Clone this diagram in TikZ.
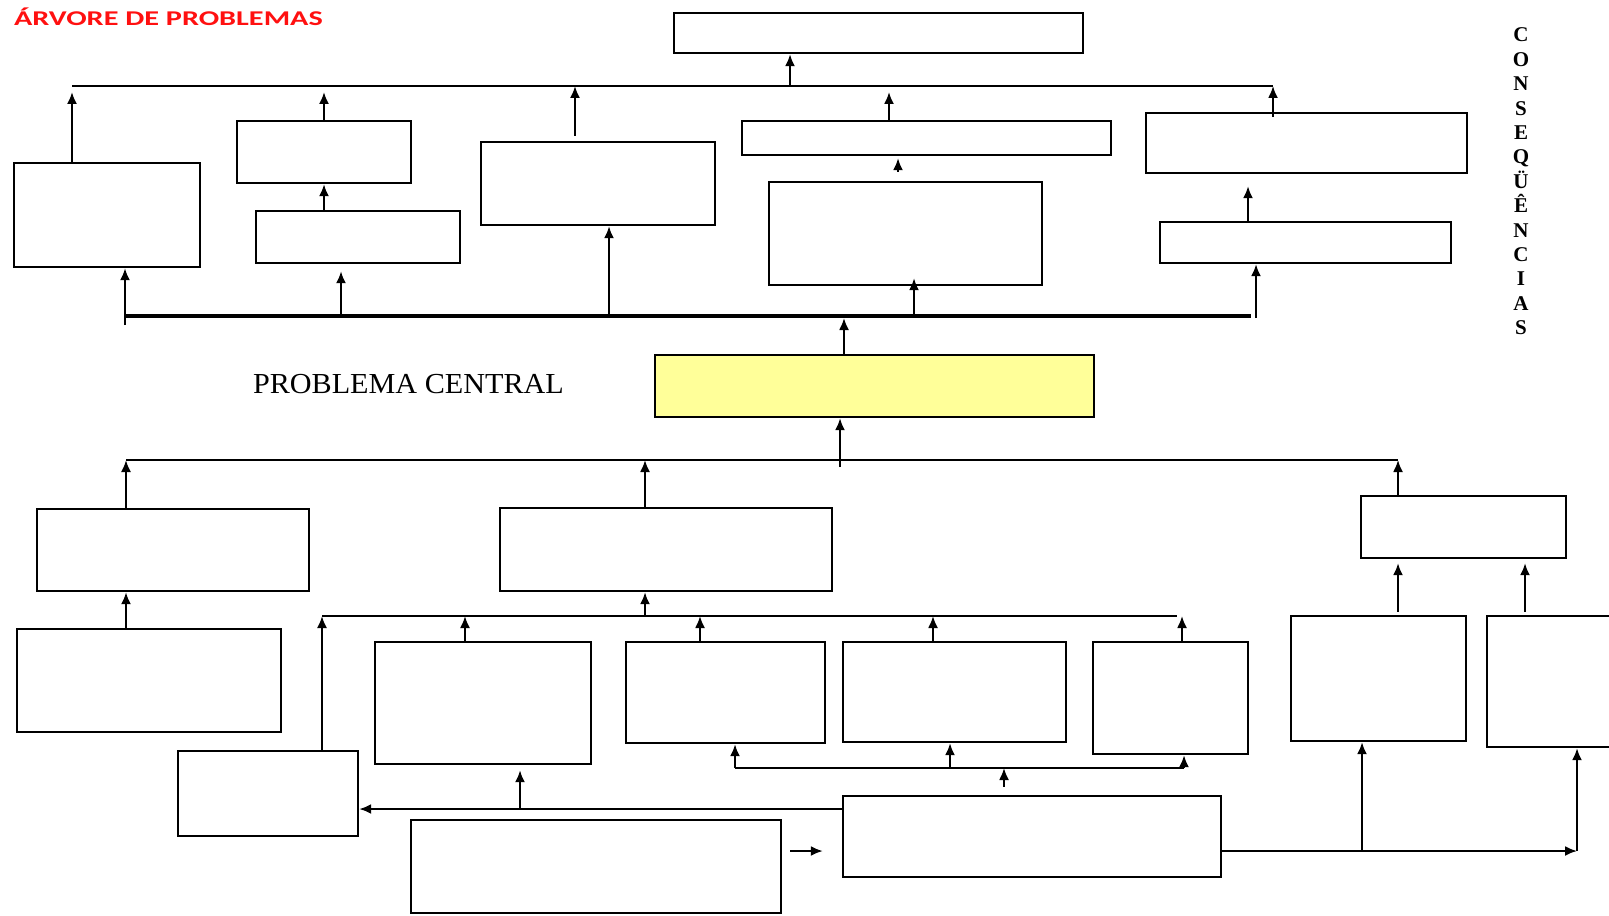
\documentclass[tikz,border=0pt]{standalone}
\usepackage{fontspec}
\usepackage{graphicx}
\setmainfont{Liberation Serif}
\newfontfamily\titlefont{Carlito}
\usetikzlibrary{arrows.meta}

\definecolor{centralfill}{HTML}{FFFF99}
\definecolor{titlered}{HTML}{FF1010}

\tikzset{
  box/.style 2 args={draw=black, line width=1.2pt, inner sep=0pt,
                     minimum width=#1*0.5pt, minimum height=#2*0.5pt},
  link/.style={line width=1pt},
  bus/.style={-, line width=1pt},
}

\begin{document}
\begin{tikzpicture}[x=0.5pt,y=-0.5pt,->,>={Latex[length=6pt,width=5pt]},link]
  \useasboundingbox (0,0) rectangle (1609,915);

  % texts
  \node[anchor=base west, inner sep=0pt, text=titlered,
        font=\titlefont\bfseries\fontsize{10.5}{12}\selectfont] (title) at (13,26)
        {\scalebox{1.44}[1]{ÁRVORE DE PROBLEMAS}};
  \node[anchor=base west, inner sep=0pt,
        font=\fontsize{14.5}{16}\selectfont] (pclabel) at (252,393)
        {\scalebox{1.04}[1]{PROBLEMA CENTRAL}};
  \node[anchor=north, align=center, inner sep=0pt,
        font=\bfseries\fontsize{10.5}{12.2}\selectfont] (cons) at (1521,27)
        {C\\O\\N\\S\\E\\Q\\Ü\\Ê\\N\\C\\I\\A\\S};

  % consequences
  \node[box={409}{40}]  (cq)  at (878.5,33)   {};
  \node[box={186}{104}] (cA)  at (107,215)    {};
  \node[box={174}{62}]  (cB)  at (324,152)    {};
  \node[box={204}{52}]  (cBb) at (358,237)    {};
  \node[box={234}{83}]  (cC)  at (598,183.5)  {};
  \node[box={369}{34}]  (cD)  at (926.5,138)  {};
  \node[box={273}{103}] (cDb) at (905.5,233.5) {};
  \node[box={321}{60}]  (cE)  at (1306.5,143) {};
  \node[box={291}{41}]  (cEb) at (1305.5,242.5) {};

  % central problem
  \node[box={439}{62}, fill=centralfill] (pc) at (874.5,386) {};

  % causes
  \node[box={272}{82}]  (kA)  at (173,550)    {};
  \node[box={264}{103}] (kAb) at (149,680.5)  {};
  \node[box={332}{83}]  (kB)  at (666,549.5)  {};
  \node[box={205}{62}]  (kC)  at (1463.5,527) {};
  \node[box={180}{85}]  (kB1) at (268,793.5)  {};
  \node[box={216}{122}] (kB2) at (483,703)    {};
  \node[box={199}{101}] (kB3) at (725.5,692.5) {};
  \node[box={223}{100}] (kB4) at (954.5,692)  {};
  \node[box={155}{112}] (kB5) at (1170.5,698) {};
  \node[box={378}{81}]  (kM)  at (1032,836.5) {};
  \node[box={370}{93}]  (kL)  at (596,866.5)  {};
  \node[box={175}{125}] (kC1) at (1378.5,678.5) {};
  \node[box={175}{131}] (kC2) at (1574.5,681.5) {};

  % top bus
  \coordinate (topl) at (72,86);
  \coordinate (topr) at (1273,86);
  \coordinate (topq) at (790,86);
  \coordinate (topc) at (575,86);
  \coordinate (topd) at (889,86);
  \draw[bus] (topl) -- (topr);
  \draw (topq) -- (topq |- cq.south);
  \draw[shorten >=3pt] (cA.north -| topl) -- (topl);
  \draw[shorten >=3pt] (cB.north) -- (cB.north |- topl);
  \draw (cBb.north -| cB.north) -- (cB.south);
  \draw[shorten <=2.5pt] (cC.north -| topc) -- (topc);
  \draw[shorten >=3pt] (cD.north -| topd) -- (topd);
  \draw[shorten <=4.5pt, shorten >=1pt] ([xshift=-3.75pt]cDb.north) -- ([xshift=-3.75pt]cDb.north |- cD.south);
  \draw[shorten <=-2.5pt] (cE.north -| topr) -- (topr);
  \draw[shorten >=6pt] ([xshift=-28.75pt]cEb.north) -- ([xshift=-28.75pt]cEb.north |- cE.south);

  % thick bus
  \coordinate (midl) at (125,316);
  \coordinate (midr) at (1251,316);
  \coordinate (midb) at (341,316);
  \coordinate (midc) at (609,316);
  \coordinate (midd) at (914,316);
  \coordinate (mide) at (1256,318);
  \draw[bus, line width=2pt] (midl) -- (midr);
  \draw[shorten <=-4.5pt] (midl) -- (midl |- cA.south);
  \draw[shorten >=3.5pt] (midb) -- (midb |- cBb.south);
  \draw (midc) -- (midc |- cC.south);
  \draw[shorten >=-4pt] (midd) -- (midd |- cDb.south);
  \draw (mide) -- (mide |- cEb.south);
  \draw[shorten >=1pt] ([xshift=-15.25pt]pc.north) -- ([xshift=-15.25pt]pc.north |- midr);

  % lower bus
  \coordinate (lowl) at (126,460);
  \coordinate (lowr) at (1398,460);
  \coordinate (lowc) at (840,460);
  \coordinate (lowb) at (645,460);
  \draw[bus] (lowl) -- (lowr);
  \draw[shorten <=-3.5pt] (lowc) -- (lowc |- pc.south);
  \draw (kA.north -| lowl) -- (lowl);
  \draw (kB.north -| lowb) -- (lowb);
  \draw (kC.north -| lowr) -- (lowr);
  \draw (kAb.north -| lowl) -- (kA.south -| lowl);
  \draw[shorten <=1.5pt, shorten >=2pt] (kC1.north -| lowr) -- (kC.south -| lowr);
  \draw[shorten <=1.5pt, shorten >=2pt] ([xshift=-24.75pt]kC2.north) -- ([xshift=-24.75pt]kC2.north |- kC.south);

  % cause bus
  \coordinate (kbl) at (322,616);
  \coordinate (kbr) at (1177,616);
  \coordinate (kbb) at (645,616);
  \draw[bus] (kbl) -- (kbr);
  \draw (kbb) -- (kbb |- kB.south);
  \draw (kB1.north -| kbl) -- (kbl);
  \draw ([xshift=-9pt]kB2.north) -- ([xshift=-9pt]kB2.north |- kbl);
  \draw ([xshift=-12.75pt]kB3.north) -- ([xshift=-12.75pt]kB3.north |- kbl);
  \draw ([xshift=-10.75pt]kB4.north) -- ([xshift=-10.75pt]kB4.north |- kbl);
  \draw ([xshift=5.75pt]kB5.north) -- ([xshift=5.75pt]kB5.north |- kbl);

  % lower cause bus
  \coordinate (kkl) at (735,768);
  \coordinate (kkr) at (1184,768);
  \coordinate (kkc) at (950,768);
  \draw[bus] (kkl) -- (kkr);
  \draw (kkl) -- (kkl |- kB3.south);
  \draw (kkc) -- (kkc |- kB4.south);
  \draw (kkr) -- (kkr |- kB5.south);
  \draw[shorten <=4pt] ([xshift=-14pt]kM.north) -- ([xshift=-14pt]kM.north |- kkr);

  % links around M
  \coordinate (kmb) at (520,809);
  \coordinate (kmr) at (1577,851);
  \coordinate (kmn) at (1362,851);
  \draw ([yshift=13.75pt]kM.west) -- ([yshift=13.75pt]kM.west -| kB1.east);
  \draw[shorten >=2.5pt] (kmb) -- (kmb |- kB2.south);
  \draw[shorten <=4pt, shorten >=9.5pt] ([yshift=7.75pt]kL.east) -- ([yshift=7.75pt]kL.east -| kM.west);
  \draw ([yshift=-7.25pt]kM.east) -- (kmr);
  \draw (kmn) -- (kmn |- kC1.south);
  \draw (kmr) -- (kmr |- kC2.south);
\end{tikzpicture}
\end{document}
